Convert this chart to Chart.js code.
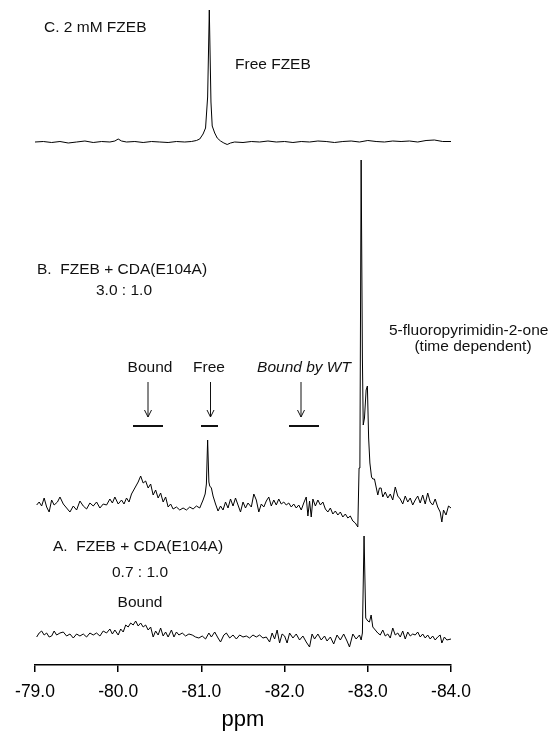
<!DOCTYPE html>
<html>
<head>
<meta charset="utf-8">
<script src="https://cdn.jsdelivr.net/npm/chart.js@4.4.1/dist/chart.umd.min.js"></script>
<style>
  html, body { margin: 0; padding: 0; background: #fff; }
  canvas { display: block; }
</style>
</head>
<body>
<canvas id="nmrChart" width="552" height="733"></canvas>
<script>
// 19F NMR spectra, chemical shift in ppm, intensity in arbitrary units

// Trace A: FZEB + CDA(E104A) 0.7 : 1.0
const ppmA = [
  -79.02, -79.05, -79.08, -79.11, -79.14, -79.17, -79.20, -79.23, -79.26, -79.30,
  -79.34, -79.38, -79.42, -79.46, -79.50, -79.54, -79.58, -79.62, -79.66, -79.70,
  -79.74, -79.78, -79.82, -79.86, -79.90, -79.93, -79.96, -80.00, -80.03, -80.06,
  -80.09, -80.12, -80.15, -80.18, -80.21, -80.24, -80.27, -80.30, -80.33, -80.36,
  -80.39, -80.42, -80.45, -80.48, -80.51, -80.54, -80.57, -80.60, -80.64, -80.67,
  -80.70, -80.73, -80.77, -80.81, -80.85, -80.89, -80.93, -80.97, -81.01, -81.05,
  -81.09, -81.12, -81.16, -81.20, -81.23, -81.27, -81.30, -81.34, -81.38, -81.42,
  -81.46, -81.50, -81.54, -81.58, -81.62, -81.66, -81.70, -81.74, -81.78, -81.82,
  -81.85, -81.88, -81.91, -81.94, -81.97, -82.00, -82.03, -82.06, -82.10, -82.14,
  -82.18, -82.22, -82.26, -82.30, -82.33, -82.36, -82.40, -82.44, -82.48, -82.51,
  -82.55, -82.59, -82.63, -82.67, -82.71, -82.75, -82.78, -82.82, -82.86, -82.90,
  -82.92, -82.935, -82.955, -82.975, -83.00, -83.02, -83.04, -83.06, -83.09, -83.12,
  -83.15, -83.18, -83.21, -83.24, -83.27, -83.30, -83.33, -83.36, -83.39, -83.42,
  -83.45, -83.48, -83.51, -83.54, -83.57, -83.60, -83.63, -83.66, -83.69, -83.72,
  -83.75, -83.78, -83.81, -83.84, -83.87, -83.89, -83.92, -83.95, -84.00
];
const intA = [
  1, 5, 7, 3, 5, 1, 2, 7, 3, 5,
  6, 2, 4, 0, 4, 2, 4, 1, 5, 3,
  5, 2, 7, 5, 9, 4, 8, 3, 9, 6,
  13, 11, 15, 13, 17, 12, 15, 11, 13, 8,
  11, 1, 7, 3, 10, 2, 6, 1, 8, 1,
  6, 3, 5, 2, 4, 3, 1, 0, 2, -1,
  5, 1, 6, 0, -4, 3, 5, 0, 3, -1,
  3, 1, 2, 0, 3, 1, 3, 0, 1, -4,
  5, -1, 8, -5, 4, 2, -5, 5, 0, 4,
  -2, 2, -4, -9, 4, -1, 4, -2, 2, -3,
  1, -6, 3, -2, 4, -3, -9, 4, -1, 3,
  -2, 5, 102, 20, 17, 16, 23, 11, 8, 5,
  3, 8, 2, 4, 0, 10, 3, 5, 1, 7,
  -1, 6, 2, 4, 3, 6, 1, 4, 0, 3,
  -1, 2, -2, 1, 3, -5, 1, -2, -1
];

// Trace B: FZEB + CDA(E104A) 3.0 : 1.0
const ppmB = [
  -79.02, -79.05, -79.08, -79.11, -79.14, -79.17, -79.20, -79.23, -79.27, -79.30,
  -79.34, -79.38, -79.42, -79.46, -79.50, -79.54, -79.58, -79.62, -79.66, -79.70,
  -79.74, -79.78, -79.82, -79.86, -79.90, -79.93, -79.96, -80.00, -80.04, -80.07,
  -80.10, -80.13, -80.16, -80.20, -80.24, -80.27, -80.30, -80.33, -80.36, -80.39,
  -80.42, -80.45, -80.48, -80.51, -80.54, -80.57, -80.60, -80.63, -80.66, -80.70,
  -80.74, -80.78, -80.82, -80.86, -80.90, -80.94, -80.98, -81.02, -81.045, -81.06,
  -81.075, -81.09, -81.10, -81.12, -81.14, -81.17, -81.20, -81.23, -81.26, -81.29,
  -81.32, -81.35, -81.38, -81.41, -81.44, -81.47, -81.50, -81.53, -81.56, -81.60,
  -81.63, -81.66, -81.69, -81.72, -81.75, -81.78, -81.81, -81.84, -81.87, -81.90,
  -81.93, -81.96, -81.99, -82.02, -82.05, -82.08, -82.11, -82.14, -82.17, -82.20,
  -82.23, -82.26, -82.28, -82.30, -82.32, -82.34, -82.37, -82.40, -82.43, -82.46,
  -82.49, -82.52, -82.55, -82.58, -82.61, -82.64, -82.67, -82.70, -82.73, -82.76,
  -82.79, -82.82, -82.85, -82.88, -82.895, -82.905, -82.92, -82.935, -82.945, -82.96,
  -82.98, -82.995, -83.01, -83.025, -83.045, -83.06, -83.08, -83.10, -83.12, -83.14,
  -83.16, -83.18, -83.21, -83.24, -83.27, -83.30, -83.33, -83.36, -83.39, -83.42,
  -83.45, -83.48, -83.51, -83.54, -83.57, -83.60, -83.63, -83.66, -83.69, -83.72,
  -83.75, -83.78, -83.81, -83.84, -83.87, -83.89, -83.91, -83.94, -83.97, -84.00
];
const intB = [
  3, 6, 2, 10, 1, -4, 8, 3, 6, 11,
  4, 0, -4, 2, -2, 7, 2, -1, 5, 2,
  6, 0, 4, 3, 9, 5, 11, 4, 8, 4,
  10, 6, 14, 20, 26, 32, 25, 27, 20, 24,
  13, 18, 10, 15, 6, 11, 1, 4, -1, 1,
  -2, 0, -2, 1, -1, 2, 0, 8, 14, 24,
  68, 26, 22, 20, 12, 4, -3, 2, -2, 6,
  0, 9, 2, 10, 3, -4, 6, 0, 5, 1,
  14, 8, -4, 4, 1, 7, 11, 2, 8, 3,
  9, 4, 6, 3, 5, 1, 4, 0, 3, -2,
  5, 11, -8, 7, -9, 9, 2, 8, 3, 6,
  -1, -4, 0, -6, -3, -7, -4, -9, -6, -10,
  -8, -13, -15, -19, 40, 44, 348, 150, 83, 90,
  118, 122, 70, 45, 31, 29, 29, 21, 13, 20,
  20, 11, 16, 10, 14, 8, 21, 12, 9, 4,
  12, 6, 10, 3, 8, 12, 5, 13, 4, 15,
  6, 3, 9, 1, -4, -14, -2, -7, 2, 0
];

// Trace C: 2 mM FZEB
const ppmC = [
  -79.00, -79.10, -79.20, -79.30, -79.40, -79.50, -79.60, -79.70, -79.80, -79.90,
  -79.96, -80.00, -80.04, -80.10, -80.20, -80.30, -80.40, -80.50, -80.60, -80.70,
  -80.80, -80.88, -80.94, -80.98, -81.02, -81.05, -81.075, -81.095, -81.115, -81.13,
  -81.16, -81.19, -81.23, -81.27, -81.31, -81.35, -81.40, -81.50, -81.60, -81.70,
  -81.80, -81.90, -82.00, -82.10, -82.20, -82.30, -82.40, -82.50, -82.60, -82.70,
  -82.80, -82.90, -83.00, -83.10, -83.20, -83.30, -83.40, -83.50, -83.60, -83.70,
  -83.80, -83.90, -84.00
];
const intC = [
  0, 0.5, -0.5, 0.5, -1, 0, 1, -0.5, 0.5, 0,
  1, 3, 1, 0, 0.5, -0.5, 0.5, 0, -0.5, 0.5,
  0, 0.5, 1.5, 3, 8, 14, 45, 132, 40, 16,
  9, 4, 1, -1, -2.5, -1, 0, -0.5, 0.5, 0,
  1, 0, 0.5, -0.5, 0.5, 0, 1, 0.5, -0.5, 0.5,
  1, 0, 1.5, 0.5, 0, 1, 0.5, 1, 0, 1.5,
  2, 0.5, 0.5
];

const tickValues = [-79, -80, -81, -82, -83, -84];

// vertical stacking of the three spectra
const offsetA = 27;
const offsetB = 157;
const offsetC = 523;

const FONT = '"Liberation Sans", Arial, Helvetica, sans-serif';

function toPoints(ppm, values, offset) {
    return ppm.map((p, i) => ({ x: p, y: values[i] + offset }));
}

// text, arrows and bars drawn on top of the spectra
const labels = [
    { text: 'C. 2 mM FZEB', x: 44, y: 28, align: 'left' },
    { text: 'Free FZEB', x: 235, y: 65, align: 'left' },
    { text: 'B.  FZEB + CDA(E104A)', x: 37, y: 270, align: 'left' },
    { text: '3.0 : 1.0', x: 124, y: 291, align: 'center' },
    { text: '5-fluoropyrimidin-2-one', x: 389, y: 331, align: 'left' },
    { text: '(time dependent)', x: 473, y: 347, align: 'center' },
    { text: 'Bound', x: 150, y: 368, align: 'center' },
    { text: 'Free', x: 209, y: 368, align: 'center' },
    { text: 'Bound by WT', x: 304, y: 368, align: 'center', italic: true },
    { text: 'A.  FZEB + CDA(E104A)', x: 53, y: 547, align: 'left' },
    { text: '0.7 : 1.0', x: 140, y: 573, align: 'center' },
    { text: 'Bound', x: 140, y: 603, align: 'center' }
];
const arrows = [148, 210.5, 301];
const bars = [[133, 163], [201, 218], [289, 319]];

const annotationPlugin = {
    id: 'annotations',
    afterDraw(chart) {
        const ctx = chart.ctx;
        ctx.save();
        ctx.fillStyle = '#111';
        ctx.textBaseline = 'middle';
        labels.forEach(l => {
            ctx.font = (l.italic ? 'italic ' : '') + '15.5px ' + FONT;
            ctx.textAlign = l.align;
            ctx.fillText(l.text, l.x, l.y);
        });

        ctx.strokeStyle = '#111';
        ctx.lineWidth = 1;
        arrows.forEach(x => {
            ctx.beginPath();
            ctx.moveTo(x, 382);
            ctx.lineTo(x, 417);
            ctx.moveTo(x - 3.5, 410);
            ctx.lineTo(x, 417);
            ctx.lineTo(x + 3.5, 410);
            ctx.stroke();
        });

        ctx.lineWidth = 2;
        bars.forEach(b => {
            ctx.beginPath();
            ctx.moveTo(b[0], 426);
            ctx.lineTo(b[1], 426);
            ctx.stroke();
        });
        ctx.restore();
    }
};

const traceStyle = {
    borderColor: '#000',
    borderWidth: 1,
    pointRadius: 0,
    tension: 0,
    fill: false
};

const ctx = document.getElementById('nmrChart').getContext('2d');
new Chart(ctx, {
    type: 'line',
    data: {
        datasets: [
            { label: 'A', data: toPoints(ppmA, intA, offsetA), ...traceStyle },
            { label: 'B', data: toPoints(ppmB, intB, offsetB), ...traceStyle },
            { label: 'C', data: toPoints(ppmC, intC, offsetC), ...traceStyle }
        ]
    },
    options: {
        responsive: false,
        animation: false,
        devicePixelRatio: 1,
        layout: { padding: { left: 35, right: 101, top: 0, bottom: 0 } },
        plugins: {
            legend: { display: false },
            tooltip: { enabled: false }
        },
        scales: {
            x: {
                type: 'linear',
                min: -84,
                max: -79,
                reverse: true,
                afterBuildTicks: scale => {
                    scale.ticks = tickValues.map(v => ({ value: v }));
                },
                afterFit: scale => { scale.height = 68; },
                ticks: {
                    callback: v => v.toFixed(1),
                    font: { family: FONT, size: 17.5 },
                    color: '#000',
                    padding: 10,
                    maxRotation: 0,
                    autoSkip: false
                },
                grid: {
                    drawOnChartArea: false,
                    drawTicks: true,
                    tickLength: 7,
                    color: '#000',
                    lineWidth: 1.5
                },
                border: { display: true, color: '#000', width: 1.5 },
                title: {
                    display: true,
                    text: 'ppm',
                    font: { family: FONT, size: 22 },
                    color: '#000',
                    padding: { top: 0, bottom: 0 }
                }
            },
            y: {
                display: false,
                min: 0,
                max: 665
            }
        }
    },
    plugins: [annotationPlugin]
});
</script>
</body>
</html>
